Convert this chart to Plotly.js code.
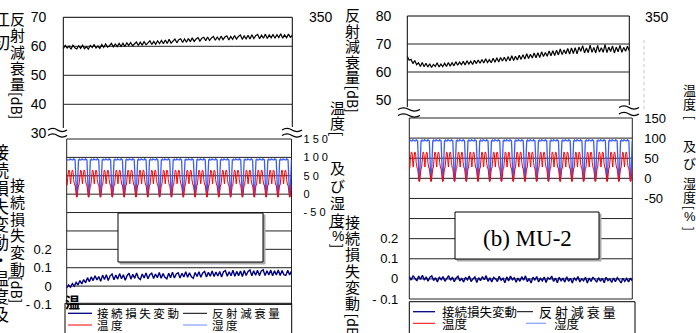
<!DOCTYPE html>
<html><head><meta charset="utf-8">
<script src="https://cdn.plot.ly/plotly-3.0.1.min.js"></script>
<style>html,body{margin:0;padding:0;background:#fff;}#chart{width:696px;height:333px;}</style>
</head><body><div id="chart"></div>
<script>
// ---------------- data ----------------
const cycleCount = 19;            // number of daily temperature/humidity cycles
const cycleHours = [0,1,2,3,4,5,6,7,8,9,10,11,12,13,14,15,16,17,18,19,20,21,22,23];
const tempCycle = [25,25,45,65,65,65,60,40,28,45,65,65,65,60,40,28,25,25,10,-8,-8,-8,5,25];
const humCycle  = [93,93,95,93,93,93,93,96,95,93,93,93,93,93,96,95,93,93,60,-5,-5,-5,40,90];

const rlA = [59.2,60.3,59.4,60.1,59.0,60.4,59.5,59.1,60.2,59.3,60.4,59.2,59.9,59.0,60.3,59.6,60.6,59.4,60.1,59.3,
60.6,59.6,60.8,59.7,60.2,61.0,59.8,60.8,59.9,61.0,60.0,61.1,59.9,61.2,60.3,61.3,60.2,60.8,61.5,60.3,
61.4,60.4,61.6,60.5,61.3,61.9,60.6,61.7,60.7,61.9,60.9,62.0,60.9,62.2,61.0,62.4,61.1,61.9,62.5,61.2,
62.3,62.6,61.3,62.5,61.4,62.7,61.6,62.9,61.7,62.5,63.0,61.8,62.8,63.1,61.9,63.2,62.0,62.9,63.4,62.1,
63.2,62.2,63.5,62.3,63.2,63.6,62.2,63.4,62.4,63.7,62.5,63.4,63.9,62.4,63.6,62.6,63.8,62.5,64.0,62.7,
63.7,64.1,62.6,63.8,62.8,64.2,62.7,63.9,62.9,64.1,62.8,64.0,63.0,64.3,62.8,63.9,62.9,64.2,63.1,63.8];
const rlB = [65.6,64.2,64.5,63.0,64.1,62.6,63.3,62.0,63.4,61.9,63.1,61.8,62.9,61.6,62.7,62.0,63.3,61.8,62.8,61.9,
63.1,62.0,63.4,62.1,63.3,62.2,63.7,62.4,63.5,62.6,63.8,62.5,64.0,62.8,63.9,62.7,64.2,63.0,64.3,63.1,
64.5,63.2,64.7,63.4,64.4,63.3,64.9,63.5,65.1,63.6,65.2,63.9,65.3,63.8,65.5,64.0,65.8,64.1,65.6,64.3,
66.0,64.5,66.2,64.6,66.5,64.8,66.3,65.0,66.8,65.1,66.9,65.2,67.2,65.5,67.0,65.6,67.5,65.8,67.6,65.9,
67.8,66.1,68.2,66.2,67.9,66.5,68.4,66.4,68.6,66.6,68.7,66.5,68.9,67.4,69.4,66.8,68.6,66.9,69.6,67.0,
68.8,66.8,69.5,67.1,68.7,67.0,69.8,66.9,68.9,67.3,69.3,66.8,68.9,67.2,69.5,67.0,68.8,67.4,69.2,67.6];
const clA = [-0.010,0.006,-0.006,0.014,0.000,0.020,0.006,0.030,0.012,0.036,0.018,0.046,0.024,0.050,0.030,0.056,0.034,0.052,0.026,0.060,
0.036,0.062,0.030,0.056,0.066,0.034,0.060,0.038,0.068,0.040,0.062,0.032,0.058,0.070,0.038,0.064,0.042,0.071,0.044,0.036,
0.066,0.044,0.072,0.040,0.062,0.070,0.042,0.066,0.046,0.074,0.043,0.068,0.048,0.040,0.070,0.046,0.076,0.044,0.066,0.072,
0.044,0.070,0.050,0.078,0.048,0.072,0.050,0.042,0.074,0.052,0.078,0.048,0.072,0.080,0.050,0.075,0.054,0.082,0.052,0.076,
0.055,0.080,0.050,0.078,0.084,0.054,0.078,0.056,0.086,0.054,0.080,0.057,0.082,0.052,0.085,0.058,0.080,0.088,0.056,0.083,
0.059,0.086,0.057,0.082,0.089,0.058,0.084,0.060,0.087,0.056,0.083,0.061,0.088,0.057,0.085,0.062,0.058,0.086,0.061,0.082];
const clB = [0.012,-0.006,0.016,0.002,-0.010,0.014,-0.002,0.018,-0.006,0.010,-0.012,0.008,0.015,-0.008,0.006,-0.015,0.010,-0.004,0.012,-0.012,
0.004,0.016,-0.007,0.009,-0.014,0.005,0.013,-0.010,0.002,-0.016,0.008,-0.005,0.014,-0.013,0.000,0.010,-0.018,0.006,-0.009,0.012,
-0.004,0.016,-0.012,0.005,-0.015,0.008,0.001,-0.013,0.013,-0.007,0.003,-0.019,0.010,-0.010,0.014,-0.004,0.006,-0.016,0.004,-0.012,
0.011,-0.007,0.015,-0.014,0.001,-0.020,0.008,-0.005,0.012,-0.015,0.003,-0.010,0.009,-0.018,0.006,-0.002,0.014,-0.013,0.004,-0.019,
0.008,-0.009,0.002,-0.016,0.011,-0.012,0.003,-0.020,0.006,-0.007,0.012,-0.015,0.000,-0.010,0.008,-0.021,0.004,-0.013,0.009,-0.005,
-0.016,0.006,-0.012,0.003,-0.019,0.008,-0.009,0.000,-0.018,0.004,-0.014,0.006,-0.010,-0.020,0.003,-0.013,0.002,-0.015,0.004,-0.010];

const rlTicksA = [30,40,50,60,70];
const rlTicksB = [50,60,70,80];
const clTicks = [-0.1,0,0.1,0.2];
const clTickTextA = ['- 0.1','0','0.1','0.2'];
const clTickTextB = ['- 0.1','0','0.1','0.2'];
const thTicks = [-50,0,50,100,150];
const thTickTextA = ['- 5 0','0','5 0','1 0 0','1 5 0'];
const thTickTextB = ['-50','0','50','100','150'];
const legendNames = ['接続損失変動','反射減衰量','温度','湿度'];
const captionB = '(b) MU-2';

// ---------------- build series ----------------
const totalHours = cycleCount*24;
const hours=[], temp=[], hum=[];
for (let d=0; d<cycleCount; d++) for (let k=0; k<cycleHours.length; k++){
  hours.push(d*24+cycleHours[k]); temp.push(tempCycle[k]); hum.push(humCycle[k]);
}
hours.push(totalHours); temp.push(tempCycle[0]); hum.push(humCycle[0]);
const idxX = arr => arr.map((_,i)=> i*totalHours/(arr.length-1));

// ---------------- geometry helpers ----------------
const W=696, H=333;
const px = x => x/W, py = y => 1-y/H;
const domX = (a,b)=>[px(a),px(b)];
const domY = (t,b)=>[py(b),py(t)];
const fL = 'Liberation Sans, Arial, sans-serif';
const fJ = 'Noto Sans CJK JP, sans-serif';
const fS = 'Liberation Serif, Times New Roman, serif';

function hx(domain, anchor){return {domain, anchor, range:[0,totalHours], showgrid:false, zeroline:false, showline:false, showticklabels:false, ticks:''};}
function ya(o){return Object.assign({showgrid:false, zeroline:false, showline:false, ticks:'', tickmode:'array', tickfont:{family:fL,size:13,color:'#000'}}, o);}

const navy='#000080', red='#ff0000', blue='#3a5cff', lblue='#8ea6ff';

const traces = [
  {x:idxX(rlA), y:rlA, xaxis:'x', yaxis:'y', mode:'lines', line:{color:'#000',width:1.2}},
  {x:hours, y:hum, xaxis:'x2', yaxis:'y3', mode:'lines', line:{color:blue,width:1.3}},
  {x:hours, y:temp, xaxis:'x2', yaxis:'y3', mode:'lines', line:{color:red,width:1}},
  {x:idxX(clA), y:clA, xaxis:'x2', yaxis:'y2', mode:'lines', line:{color:navy,width:1.4}},
  {x:idxX(rlB), y:rlB, xaxis:'x3', yaxis:'y4', mode:'lines', line:{color:'#000',width:1.2}},
  {x:hours, y:hum, xaxis:'x4', yaxis:'y6', mode:'lines', line:{color:blue,width:1.3}},
  {x:hours, y:temp, xaxis:'x4', yaxis:'y6', mode:'lines', line:{color:red,width:1}},
  {x:idxX(clB), y:clB, xaxis:'x4', yaxis:'y5', mode:'lines', line:{color:navy,width:1.4}}
];

// ---------------- shapes ----------------
const shapes=[];
function L(x0,y0,x1,y1,color,width,layer,dash){shapes.push({type:'line',xref:'paper',yref:'paper',x0:px(x0),y0:py(y0),x1:px(x1),y1:py(y1),line:{color:color||'#000',width:width||1,dash:dash||'solid'},layer:layer||'below'});}
function R(x0,y0,x1,y1,color,fill,layer){shapes.push({type:'rect',xref:'paper',yref:'paper',x0:px(x0),y0:py(y0),x1:px(x1),y1:py(y1),line:{color:color||'#000',width:1},fillcolor:fill||'rgba(0,0,0,0)',layer:layer||'below'});}
function G(yref,v,x0,x1,color){shapes.push({type:'line',xref:'paper',yref,x0:px(x0),x1:px(x1),y0:v,y1:v,line:{color:color||'#222',width:1},layer:'below'});}
function wave(x0,x1,yc,a){const w=x1-x0;shapes.push({type:'path',xref:'paper',yref:'paper',
  path:`M ${px(x0)},${py(yc)} Q ${px(x0+w/4)},${py(yc-2*a)} ${px(x0+w/2)},${py(yc)} T ${px(x1)},${py(yc)}`,line:{color:'#000',width:1.4},layer:'above'});}

// panel A top
L(63.3,17.3,292.3,17.3); L(63.3,17.3,63.3,128); L(292.3,17.3,292.3,127);
[40,50,60].forEach(v=>G('y',v,63.3,292.3));
// panel A bottom
R(66.7,139,291.5,304.5,'#222');
[0,0.1,0.2,0.3,0.4,0.5,0.6,0.7].forEach(v=>G('y2',v,66.7,291.5));
// panel B top
L(407.3,16,629.3,16); L(407.3,16,407.3,107); L(629.3,16,629.3,105);
[50,60,70].forEach(v=>G('y4',v,407.3,629.3));
// panel B bottom
R(409.3,118,632.3,299,'#222');
[0,0.1,0.2,0.3,0.4,0.5,0.6,0.7].forEach(v=>G('y5',v,409.3,632.3));
// breaks
wave(48,67,130,1.6); wave(48,67,135.5,1.6);
wave(282,302,130,1.6); wave(282,302,135.5,1.6);
wave(398,420,109.5,1.6); wave(398,420,115.5,1.6);
wave(619,639,107.5,1.6); wave(619,639,114,1.6);
// dotted faint line (panel B right)
L(644,40,644,110,'#c8c8c8',1,'below','dot');
// caption boxes
R(120,215,265,264,'#aaa','#aaa','above'); R(118,213,263,262,'#000','#fff','above');
R(457,214,601,261,'#aaa','#aaa','above'); R(455,212,599,259,'#000','#fff','above');
// legend boxes
R(65,303.3,291.7,345,'#000'); R(409.3,301.7,635,345,'#000');
// legend lines
L(68,313.3,92,313.3,navy,1.3); L(183,313.3,207,313.3,'#000',1);
L(68,325,92,325,red,1); L(183,325,207,325,lblue,1.3);
L(413,311.7,435,311.7,navy,1.3); L(517,311.7,533,311.7,'#000',1);
L(413,323.3,435,323.3,red,1); L(526,323.3,546,323.3,lblue,1.3);

// ---------------- annotations ----------------
const anns=[];
function T(text,x,y,o){o=o||{};anns.push({text,xref:'paper',yref:'paper',x:px(x),y:py(y),showarrow:false,
  xanchor:o.xa||'center',yanchor:o.ya||'middle',textangle:o.ang||0,
  font:{family:o.fam||fJ,size:o.size||15,color:o.color||'#000'}});}
function V(str,x,y0,step,size){[...str].forEach((c,i)=>T(c,x,y0+i*step,{size}));}

// left clipped text (neighbouring figure)
T('江',1,18,{size:17}); T('初',1,41,{size:17});
V('接続損失変動・温度及',0.5,151,18,17);
// panel A titles
V('反射減衰量',17,18.5,16.3,15); T('[dB]',17,105,{ang:90,size:14});
V('接続損失変動',17,184.5,16.8,15); T('[dB]',17,289,{ang:90,size:14});
// middle titles
V('温度',337.5,107.5,15,15); T('[',337.5,134,{ang:90,size:15});
V('及び湿度',337.5,168,17,15); T('[',337.5,228,{ang:90,size:14}); T('%',337.5,236,{size:14,fam:fL}); T(']',337.5,246,{ang:90,size:14});
V('反射減衰量',352.5,15,15.4,15); T('[dB]',352.5,99,{ang:90,size:14});
V('接続損失変動',352.5,221.5,16.2,15); T('[dB',352.5,325,{ang:90,size:14});
// panel B right title
V('温度',689.5,89,14.5,13); T('[',689.5,117,{ang:90,size:13});
V('及び',689.5,145,17,13); V('湿度',689.5,182,14.5,13);
T('[',689.5,207,{ang:90,size:13}); T('%',689.5,216,{size:13,fam:fL}); T(']',689.5,228,{ang:90,size:13});
// 350 labels
T('350',320.5,17.5,{fam:fL,size:14}); T('350',657,17.5,{fam:fL,size:14});
// stray bold glyph
T('<b>温</b>',72.5,301,{size:15});
// legends
T(legendNames[0].split('').join(' '),95,313.3,{xa:'left',size:11.5});
T(legendNames[1].split('').join(' '),210,313.3,{xa:'left',size:11.5});
T(legendNames[2].split('').join(' '),95,325,{xa:'left',size:11.5});
T(legendNames[3].split('').join(' '),210,325,{xa:'left',size:11.5});
T(legendNames[0],440,311.7,{xa:'left',size:12.5});
T(legendNames[1].split('').join(' '),537,311.7,{xa:'left',size:13});
T(legendNames[2],440,323.3,{xa:'left',size:12.5});
T(legendNames[3],552,323.3,{xa:'left',size:12.5});
// caption
T(captionB,527,238,{fam:fS,size:23});

const layout={
  width:W,height:H,margin:{l:0,r:0,t:0,b:0},paper_bgcolor:'#fff',plot_bgcolor:'rgba(0,0,0,0)',showlegend:false,
  xaxis:hx(domX(63.3,292.3),'y'),
  yaxis:ya({domain:domY(17.3,133.3),range:[30,70],anchor:'x',tickvals:rlTicksA,ticktext:rlTicksA.map(String),tickfont:{family:fL,size:14,color:'#000'},ticklabelstandoff:16}),
  xaxis2:hx(domX(66.7,291.5),'y2'),
  yaxis2:ya({domain:domY(139,304.5),range:[-0.1,0.8],anchor:'x2',tickvals:clTicks,ticktext:clTickTextA,ticklabelstandoff:14}),
  yaxis3:ya({overlaying:'y2',side:'right',anchor:'x2',range:[-300,150],tickvals:thTicks,ticktext:thTickTextA,tickfont:{family:fL,size:11,color:'#000'},ticklabelstandoff:11}),
  xaxis3:hx(domX(407.3,629.3),'y4'),
  yaxis4:ya({domain:domY(16,128),range:[40,80],anchor:'x3',tickvals:rlTicksB,ticktext:rlTicksB.map(String),tickfont:{family:fL,size:14,color:'#000'},ticklabelstandoff:15}),
  xaxis4:hx(domX(409.3,632.3),'y5'),
  yaxis5:ya({domain:domY(118,299),range:[-0.1,0.8],anchor:'x4',tickvals:clTicks,ticktext:clTickTextB,ticklabelstandoff:10}),
  yaxis6:ya({overlaying:'y5',side:'right',anchor:'x4',range:[-300,150],tickvals:thTicks,ticktext:thTickTextB,ticklabelstandoff:11}),
  shapes, annotations:anns
};
Plotly.newPlot('chart',traces,layout,{staticPlot:true,displayModeBar:false});
</script></body></html>
